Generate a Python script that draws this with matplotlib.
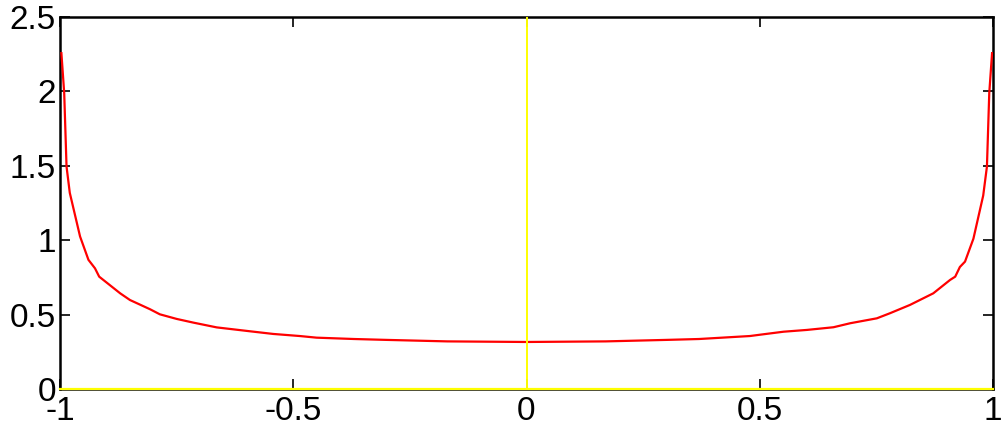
import matplotlib
matplotlib.use("Agg")
import matplotlib.pyplot as plt

# Values
x_vals = [-0.997, -0.991, -0.986, -0.979, -0.957, -0.939, -0.925, -0.916,
          -0.871, -0.850, -0.807, -0.786, -0.750, -0.714, -0.664, -0.593,
          -0.543, -0.486, -0.450, -0.370, -0.300, -0.170, 0.000,
          0.170, 0.300, 0.370, 0.479, 0.501, 0.551, 0.601, 0.658, 0.694,
          0.751, 0.779, 0.822, 0.872, 0.908, 0.919, 0.929, 0.940, 0.958,
          0.979, 0.987, 0.992, 0.998]
y_vals = [2.257, 1.990, 1.495, 1.318, 1.025, 0.868, 0.811, 0.755,
          0.643, 0.598, 0.536, 0.502, 0.471, 0.446, 0.414, 0.388,
          0.370, 0.356, 0.345, 0.336, 0.330, 0.320, 0.316,
          0.320, 0.330, 0.336, 0.356, 0.365, 0.385, 0.397, 0.415, 0.442,
          0.475, 0.509, 0.565, 0.643, 0.733, 0.755, 0.820, 0.856, 1.010,
          1.300, 1.495, 1.990, 2.257]

x_ticks = [-1, -0.5, 0, 0.5, 1]
x_tick_labels = ["-1", "-0.5", "0", "0.5", "1"]
y_ticks = [0, 0.5, 1, 1.5, 2, 2.5]
y_tick_labels = ["0", "0.5", "1", "1.5", "2", "2.5"]

plt.rcParams['font.family'] = ['Liberation Sans', 'DejaVu Sans']

fig = plt.figure(figsize=(10.02, 4.36), dpi=100)
ax = fig.add_axes([60/1002, 47/436, 933/1002, 372/436])

ax.plot(x_vals, y_vals, color='red', lw=1.6, zorder=3)
ax.plot([-1, 1], [0, 0], color='yellow', lw=1.6, zorder=4, clip_on=False)
ax.plot([0, 0], [0, 2.5], color='yellow', lw=1.4, zorder=4)

ax.set_xlim(-1, 1)
ax.set_ylim(0, 2.5)
ax.set_xticks(x_ticks)
ax.set_xticklabels(x_tick_labels)
ax.set_yticks(y_ticks)
ax.set_yticklabels(y_tick_labels)
ax.tick_params(direction='in', length=7, width=1.2, labelsize=24,
               top=True, right=True)
ax.tick_params(axis='y', pad=3)
ax.tick_params(axis='x', pad=5)
for s in ax.spines.values():
    s.set_linewidth(1.8)

fig.savefig("out.png", dpi=100)
